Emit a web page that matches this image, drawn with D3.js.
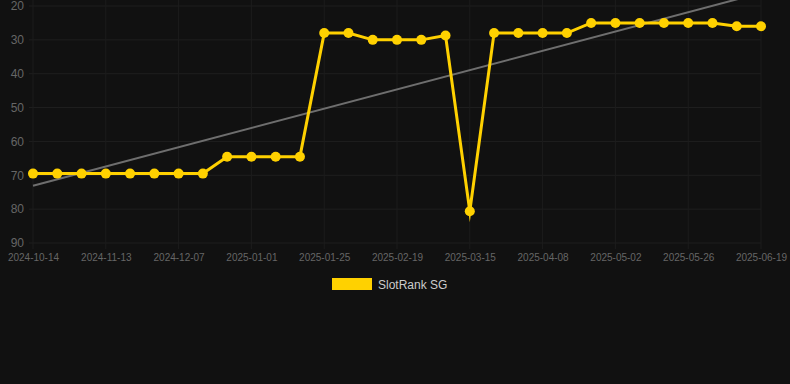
<!DOCTYPE html>
<html>
<head>
<meta charset="utf-8">
<script src="https://cdn.jsdelivr.net/npm/d3@7"></script>
<style>
  html, body { margin: 0; padding: 0; background: #111111; }
  svg { display: block; font-family: "Liberation Sans", Arial, sans-serif; }
</style>
</head>
<body>
<svg width="790" height="384"></svg>
<script>
// даты (ось X) и значения ранга
const dates = [
  "2024-10-14", "2024-10-24", "2024-11-03", "2024-11-13", "2024-11-21", "2024-11-29",
  "2024-12-07", "2024-12-15", "2024-12-23", "2025-01-01", "2025-01-09", "2025-01-17",
  "2025-01-25", "2025-02-02", "2025-02-11", "2025-02-19", "2025-02-27", "2025-03-07",
  "2025-03-15", "2025-03-23", "2025-03-31", "2025-04-08", "2025-04-16", "2025-04-24",
  "2025-05-02", "2025-05-10", "2025-05-18", "2025-05-26", "2025-06-03", "2025-06-11",
  "2025-06-19"
];
const rank = [
  69.5, 69.5, 69.5, 69.5, 69.5, 69.5, 69.5, 69.5,
  64.5, 64.5, 64.5, 64.5,
  28, 28, 30, 30, 30, 28.7,
  80.6,
  28, 28, 28, 28,
  25, 25, 25, 25, 25, 25,
  26, 26
];
const yTicks = [20, 30, 40, 50, 60, 70, 80, 90];
const seriesName = "SlotRank SG";

const svg = d3.select("svg");

const area = { left: 33, right: 761, top: 6, bottom: 243 };

const scX = d3.scalePoint()
  .domain(dates)
  .range([area.left, area.right]);

const scY = d3.scaleLinear()
  .domain([20, 90])
  .range([area.top, area.bottom]);

// сетка
svg.append("g")
  .selectAll("line")
  .data(yTicks)
  .enter()
  .append("line")
  .attr("x1", area.left - 4)
  .attr("x2", area.right)
  .attr("y1", d => scY(d))
  .attr("y2", d => scY(d))
  .style("stroke", "#1f1f1f")
  .style("stroke-width", 1);

const labelDates = dates.filter((d, i) => i % 3 === 0);

svg.append("g")
  .selectAll("line")
  .data(labelDates)
  .enter()
  .append("line")
  .attr("x1", d => scX(d))
  .attr("x2", d => scX(d))
  .attr("y1", 0)
  .attr("y2", area.bottom + 6)
  .style("stroke", "#1c1c1c")
  .style("stroke-width", 1);

// подписи осей
const axisY = d3.axisLeft(scY).tickValues(yTicks).tickSize(0).tickPadding(0);
const gY = svg.append("g")
  .attr("transform", `translate(${area.left - 9}, 0)`)
  .call(axisY);
gY.select(".domain").remove();
gY.selectAll("text")
  .style("font-family", "Liberation Sans, Arial, sans-serif")
  .style("font-size", "12px")
  .style("fill", "#666666");

const axisX = d3.axisBottom(scX).tickValues(labelDates).tickSize(0).tickPadding(0);
const gX = svg.append("g")
  .attr("transform", `translate(0, ${area.bottom + 11})`)
  .call(axisX);
gX.select(".domain").remove();
gX.selectAll("text")
  .style("font-family", "Liberation Sans, Arial, sans-serif")
  .style("font-size", "10px")
  .style("fill", "#666666");

// линия тренда (линейная регрессия)
const idx = rank.map((d, i) => i);
const mx = d3.mean(idx), my = d3.mean(rank);
const slope = d3.sum(idx, i => (i - mx) * (rank[i] - my)) / d3.sum(idx, i => (i - mx) * (i - mx));
const b = my - slope * mx;
const last = dates.length - 1;

svg.append("line")
  .attr("x1", scX(dates[0]))
  .attr("y1", scY(b))
  .attr("x2", scX(dates[last]))
  .attr("y2", scY(b + slope * last))
  .style("stroke", "#6e6e6e")
  .style("stroke-width", 2);

// основной график
const line = d3.line()
  .x((d, i) => scX(dates[i]))
  .y(d => scY(d));

svg.append("path")
  .datum(rank)
  .attr("d", line)
  .style("fill", "none")
  .style("stroke", "#FFD100")
  .style("stroke-width", 3)
  .style("stroke-linejoin", "miter")
  .style("stroke-miterlimit", 10);

svg.selectAll(".dot")
  .data(rank)
  .enter()
  .append("circle")
  .attr("class", "dot")
  .attr("r", 5)
  .attr("cx", (d, i) => scX(dates[i]))
  .attr("cy", d => scY(d))
  .style("fill", "#FFD100");

// легенда
const legend = svg.append("g").attr("transform", "translate(332, 278)");
legend.append("rect")
  .attr("width", 40)
  .attr("height", 12)
  .style("fill", "#FFD100");
legend.append("text")
  .attr("x", 46)
  .attr("y", 10.5)
  .text(seriesName)
  .style("font-size", "12px")
  .style("fill", "#cccccc");
</script>
</body>
</html>
